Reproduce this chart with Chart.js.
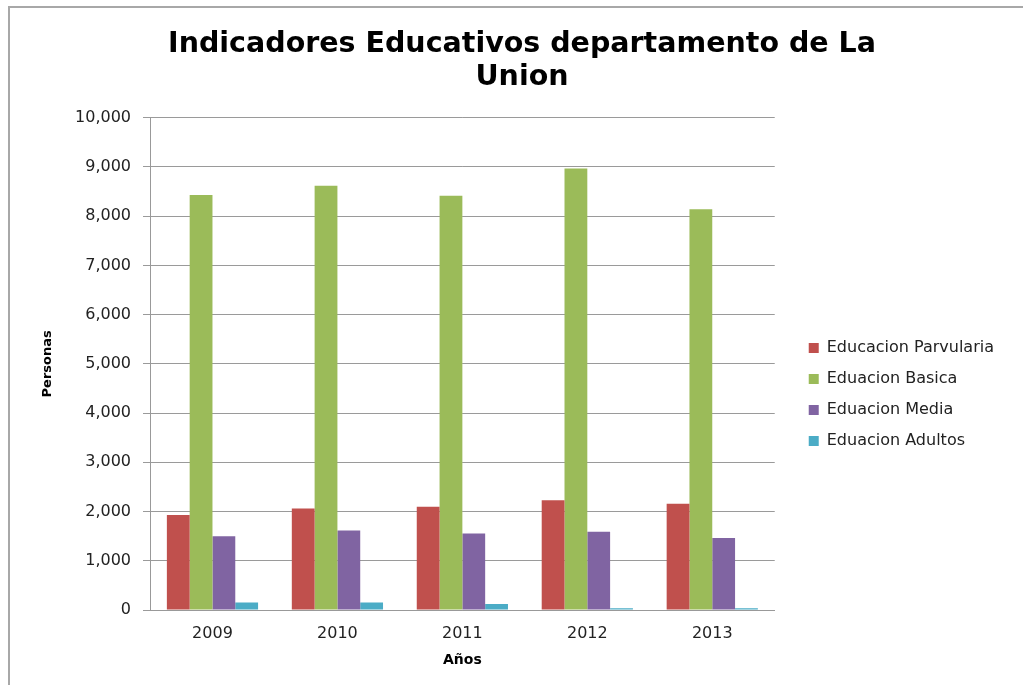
<!DOCTYPE html>
<html>
<head>
<meta charset="utf-8">
<script src="https://cdn.jsdelivr.net/npm/chart.js@4"></script>
<style>
  body { margin: 0; background: #fff; }
  #wrap { position: relative; width: 1023px; height: 685px; }
  #frame { position: absolute; left: 8px; top: 6px; right: 0; bottom: 0;
           border-left: 2px solid #a8a8a8; border-top: 2px solid #a8a8a8; pointer-events: none; }
</style>
</head>
<body>
<div id="wrap">
  <canvas id="chart" width="1023" height="685"></canvas>
  <div id="frame"></div>
</div>
<script>
// years on the x axis
const years = ['2009', '2010', '2011', '2012', '2013'];

// number of people per level
const parvularia = [1930, 2060, 2095, 2230, 2160];
const basica = [8430, 8620, 8415, 8970, 8140];
const media = [1500, 1615, 1555, 1590, 1465];
const adultos = [150, 150, 120, 35, 35];

const seriesNames = ['Educacion Parvularia', 'Eduacion Basica', 'Eduacion Media', 'Eduacion Adultos'];
const seriesColors = ['#C0504D', '#9BBB59', '#8064A2', '#4BACC6'];

const font = "'DejaVu Sans', sans-serif";

// small nudges for legend and title, the library can't place them like Excel does
const legendShift = { x: 19, y: 52 };
const titleCenterX = 522;

var nudge = {
    id: 'nudge',
    afterLayout: function(chart) {
        var lg = chart.legend;
        lg.left += legendShift.x; lg.right += legendShift.x;
        lg.top += legendShift.y; lg.bottom += legendShift.y;
        var tb = chart.titleBlock;
        var dx = titleCenterX - (tb.left + tb.right) / 2;
        tb.left += dx; tb.right += dx;
    }
};

var ctx = document.getElementById('chart').getContext('2d');

var chartData = {
    labels: years,
    datasets: [parvularia, basica, media, adultos].map(function(values, i) {
        return {
            label: seriesNames[i],
            data: values,
            backgroundColor: seriesColors[i],
            borderWidth: 0,
            categoryPercentage: 0.73,
            barPercentage: 1.0
        };
    })
};

var config = {
    type: 'bar',
    data: chartData,
    plugins: [nudge],
    options: {
        responsive: false,
        animation: false,
        layout: {
            padding: { left: 20, right: 38, top: 16, bottom: 16 }
        },
        plugins: {
            title: {
                display: true,
                text: ['Indicadores Educativos departamento de La', 'Union'],
                color: '#000',
                font: { family: font, size: 28.5, weight: 'bold', lineHeight: 1.17 },
                padding: { top: 12, bottom: 23 }
            },
            legend: {
                position: 'right',
                labels: {
                    color: '#222',
                    font: { family: font, size: 16 },
                    boxWidth: 10,
                    boxHeight: 10,
                    padding: 15
                }
            },
            tooltip: { enabled: false }
        },
        scales: {
            x: {
                grid: { display: false },
                border: { display: true, color: '#999' },
                ticks: { color: '#222', font: { family: font, size: 16 }, padding: 6 },
                title: {
                    display: true,
                    text: 'Años',
                    color: '#000',
                    font: { family: font, size: 14, weight: 'bold' },
                    padding: { top: 3, bottom: 0 }
                }
            },
            y: {
                min: 0,
                max: 10000,
                ticks: {
                    stepSize: 1000,
                    color: '#222',
                    font: { family: font, size: 16 },
                    padding: 12,
                    callback: function(v) { return v.toLocaleString('en-US'); }
                },
                grid: { color: '#9a9a9a', tickLength: 7 },
                border: { display: true, color: '#999' },
                title: {
                    display: true,
                    text: 'Personas',
                    color: '#000',
                    font: { family: font, size: 13, weight: 'bold' },
                    padding: { top: 20, bottom: 0 }
                },
                afterFit: function(scale) { scale.width = 130; }
            }
        }
    }
};

var eduChart = new Chart(ctx, config);
</script>
</body>
</html>
